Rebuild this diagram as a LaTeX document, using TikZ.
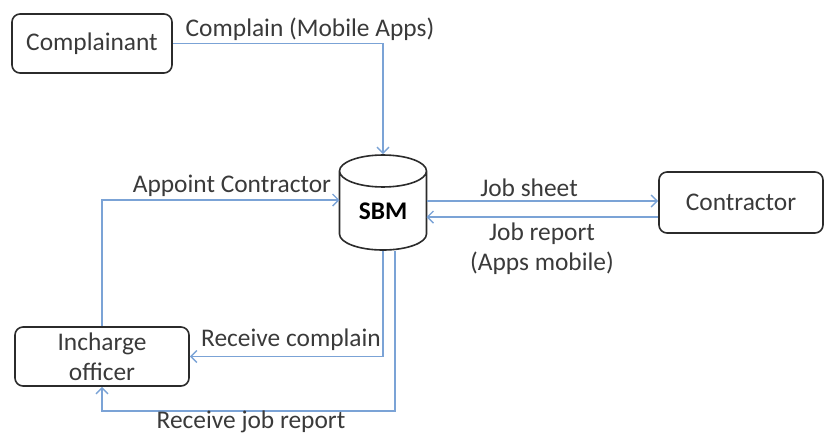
\documentclass[tikz,border=0pt]{standalone}
\usepackage{fontspec}
\setmainfont{Carlito}
\usetikzlibrary{positioning,arrows.meta,calc,shapes.geometric}
\definecolor{azul}{HTML}{7BA3D6}
\definecolor{borde}{HTML}{2B2B2B}
\definecolor{texto}{HTML}{3A3A3A}

\begin{document}
\begin{tikzpicture}[x=0.5pt,y=-0.5pt,font=\fontsize{12.7}{15}\selectfont,text=texto,
        b/.style={draw=borde,line width=0.8pt,rounded corners=4pt,align=center,inner sep=0pt},
        f/.style={-{Straight Barb[length=3pt,width=6pt]},azul,line width=0.7pt},
        t/.style={inner sep=0pt,align=center}]
        \useasboundingbox (0,0) rectangle (825,436);
        \node[b,minimum width=80pt,minimum height=29.5pt] (cpl) at (92,43.5) {Complainant};
        \node[b,minimum width=87pt,minimum height=29.5pt] (off) at (102,356.5) {Incharge\\officer};
        \node[b,minimum width=82pt,minimum height=30.5pt] (con) at (741,202.5) {Contractor};
        \node[cylinder,shape border rotate=90,draw=borde,fill=white,line width=0.8pt,aspect=0.66,
          minimum width=43.5pt,minimum height=47.5pt,inner sep=0pt,anchor=shape center,
          font=\fontsize{12.7}{15}\selectfont\bfseries,text=black] (sbm) at (383,202.5) {SBM};
        \draw[f] (cpl.east) -| (sbm.north);
        \draw[f] ($(sbm.shape center)+(43.5,-1.5)$) -- ($(con.west)+(0,-1.5)$);
        \draw[f] ($(con.west)+(0,14.5)$) -- ($(sbm.shape center)+(43.5,14.5)$);
        \draw[f] (off.north) |- ($(sbm.shape center)+(-43.5,-2.5)$);
        \draw[f] (sbm.south) |- (off.east);
        \draw[f] ($(sbm.south)+(12,0)$) -- ++(0,160) -| (off.south);
        \node[t] (l1) at (310,29) {Complain (Mobile Apps)};
        \node[t] (l2) at (232,186) {Appoint Contractor};
        \node[t] (l3) at (529,188) {Job sheet};
        \node[t] (l4) at (542,249) {Job report\\(Apps mobile)};
        \node[t] (l5) at (291,340) {Receive complain};
        \node[t] (l6) at (251,422) {Receive job report};
      \end{tikzpicture}
\end{document}
